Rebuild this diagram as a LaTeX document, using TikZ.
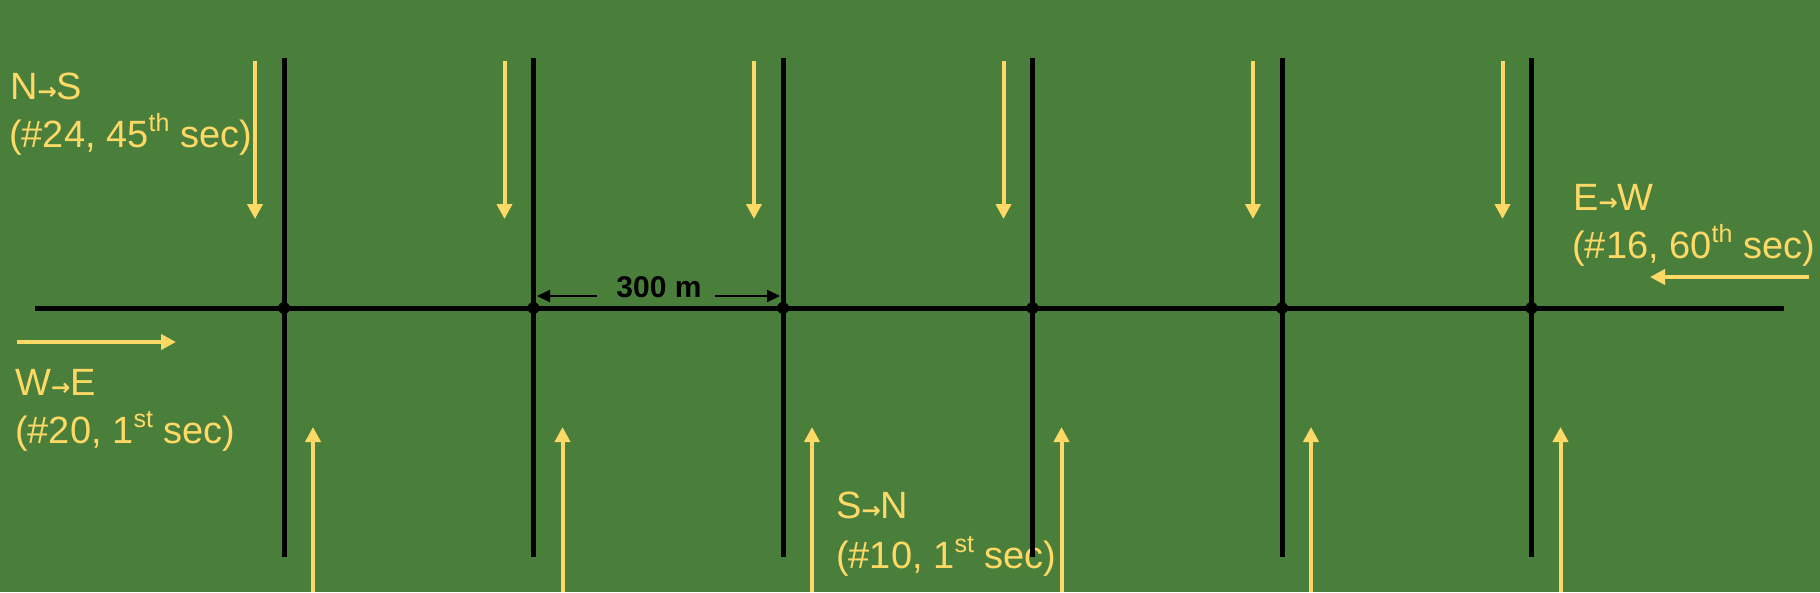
\documentclass[tikz,border=0pt]{standalone}
\usepackage{fontspec}
\setmainfont{Liberation Sans}
\newfontfamily\arrowfont{DejaVu Sans}
\usetikzlibrary{arrows.meta}
\definecolor{bggreen}{RGB}{74,126,59}
\definecolor{lightgold}{RGB}{255,217,102}
\newcommand{\supr}[1]{\raisebox{0.42em}{\fontsize{25}{25}\selectfont #1}}
\newcommand{\dirarrow}{{\arrowfont\bfseries\fontsize{23}{23}\selectfont →}}
\tikzset{
  road/.style={line width=5pt, black},
  flow/.style={line width=4pt, lightgold, -{Triangle[length=15pt,width=15pt]}},
  dimarrow/.style={line width=2pt, black, -{Triangle[length=13pt,width=12pt]}},
  lbl/.style={inner sep=0pt, anchor=base west, text=lightgold, font=\fontsize{38}{38}\selectfont},
  lbl2/.style={lbl, align=left}
}
\begin{document}
\begin{tikzpicture}[x=1pt,y=-1pt]
\fill[bggreen] (0,0) rectangle (1820,592);
\useasboundingbox (0,0) rectangle (1820,592);

% labels (drawn below roads)
\node[lbl] (nsA) at (10,99) {N\dirarrow S};
\node[lbl] (nsB) at (9,147) {(\#24, 45\supr{th} sec)};
\node[lbl] (weA) at (15,395) {W\dirarrow E};
\node[lbl] (weB) at (15,443) {(\#20, 1\supr{st} sec)};
\node[lbl] (snA) at (836,518) {S\dirarrow N};
\node[lbl] (snB) at (836,568) {(\#10, 1\supr{st} sec)};
\node[lbl] (ewA) at (1573,210) {E\dirarrow W};
\node[lbl] (ewB) at (1572,258) {(\#16, 60\supr{th} sec)};

% roads
\coordinate (hw) at (35,308);
\coordinate (he) at (1784,308);
\draw[road] (hw) -- (he);
\foreach \i/\x in {1/284,2/533.5,3/783,4/1032.5,5/1282,6/1531.5}{
  \coordinate (vt\i) at (\x,58);
  \coordinate (vb\i) at (\x,557);
  \coordinate (x\i) at (\x,308);
  \draw[road] (vt\i) -- (vb\i);
  \fill[black] (x\i) circle (6pt);
  % southbound arrows
  \coordinate (ds\i) at ({\x-29},61);
  \coordinate (de\i) at ({\x-29},219);
  \draw[flow] (ds\i) -- (de\i);
  % northbound arrows
  \coordinate (us\i) at ({\x+29},592);
  \coordinate (ue\i) at ({\x+29},427);
  \draw[flow] (us\i) -- (ue\i);
}

% east-west arrows
\coordinate (wes) at (17,342);
\coordinate (wee) at (176,342);
\draw[flow] (wes) -- (wee);
\coordinate (ews) at (1809,277);
\coordinate (ewe) at (1650,277);
\draw[flow] (ews) -- (ewe);

% dimension
\node[inner sep=0pt, anchor=base, font=\bfseries\fontsize{30}{30}\selectfont] (dim) at (659,297.5) {300 m};
\coordinate (dl) at (597,296);
\coordinate (dle) at (537,296);
\coordinate (dr) at (715,296);
\coordinate (dre) at (780,296);
\draw[dimarrow] (dl) -- (dle);
\draw[dimarrow] (dr) -- (dre);
\end{tikzpicture}
\end{document}
